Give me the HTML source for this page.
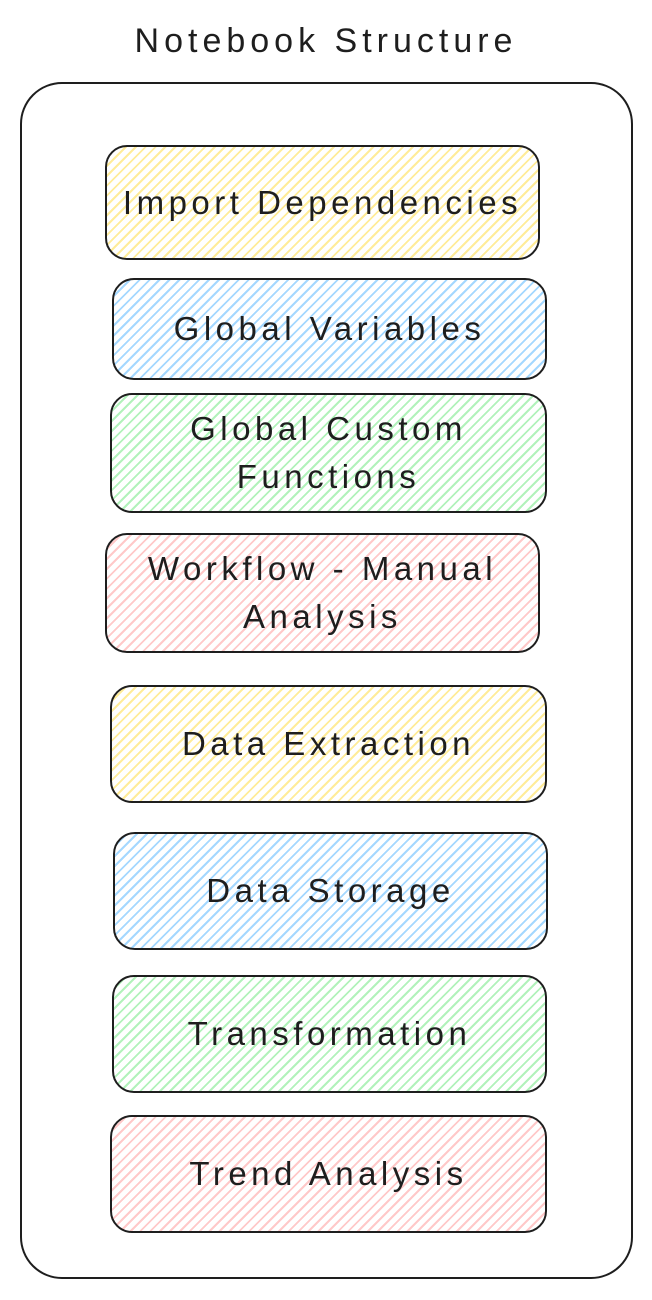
<!DOCTYPE html>
<html><head><meta charset="utf-8"><style>
body{margin:0;width:652px;height:1300px;background:#fff;position:relative;overflow:hidden;font-family:"Liberation Sans",sans-serif;}
.t{position:absolute;left:0;width:652px;top:22px;text-align:center;font-size:34px;color:#1e1e1e;letter-spacing:5px;}
.outer{position:absolute;left:20px;top:82px;width:613px;height:1197px;border:2px solid #1e1e1e;border-radius:42px;box-sizing:border-box;}
.b{position:absolute;border:2px solid #1e1e1e;border-radius:22px;box-sizing:border-box;display:flex;align-items:center;justify-content:center;text-align:center;font-size:33px;color:#1e1e1e;letter-spacing:4.5px;line-height:48px;}
.y{background:repeating-linear-gradient(-45deg,#fff 0 5px,#ffec99 5px 7px);}
.bl{background:repeating-linear-gradient(-45deg,#fff 0 5px,#a5d8ff 5px 7px);}
.g{background:repeating-linear-gradient(-45deg,#fff 0 5px,#b2f2bb 5px 7px);}
.p{background:repeating-linear-gradient(-45deg,#fff 0 5px,#ffc9c9 5px 7px);}
</style></head><body>
<div class="t">Notebook Structure</div>
<div class="outer"></div>
<div class="b y" style="left:105px;top:145px;width:435px;height:115px">Import Dependencies</div>
<div class="b bl" style="left:112px;top:278px;width:435px;height:102px">Global Variables</div>
<div class="b g" style="left:110px;top:393px;width:437px;height:120px">Global Custom<br>Functions</div>
<div class="b p" style="left:105px;top:533px;width:435px;height:120px">Workflow - Manual<br>Analysis</div>
<div class="b y" style="left:110px;top:685px;width:437px;height:118px">Data Extraction</div>
<div class="b bl" style="left:113px;top:832px;width:435px;height:118px">Data Storage</div>
<div class="b g" style="left:112px;top:975px;width:435px;height:118px">Transformation</div>
<div class="b p" style="left:110px;top:1115px;width:437px;height:118px">Trend Analysis</div>
</body></html>
